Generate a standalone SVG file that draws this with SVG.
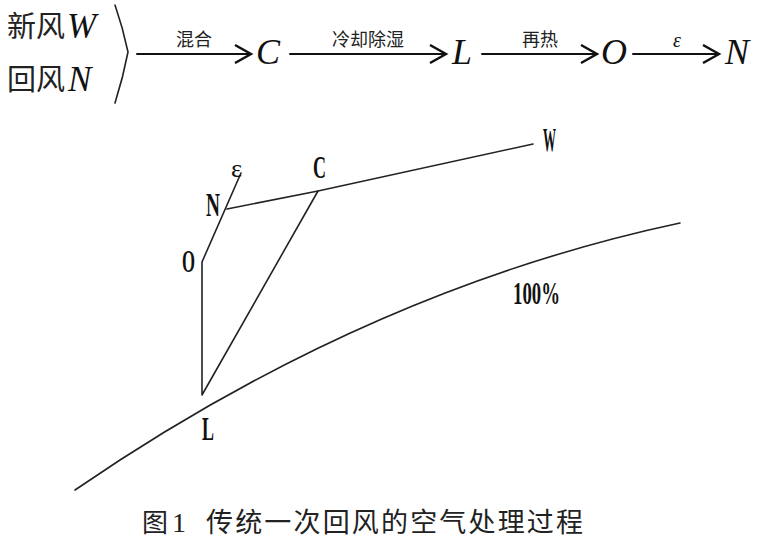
<svg xmlns="http://www.w3.org/2000/svg" width="760" height="552" viewBox="0 0 760 552">
<style>
.ln{fill:none;stroke:#222;stroke-width:1.6;stroke-linecap:round;stroke-linejoin:round}
.ar{fill:none;stroke:#111;stroke-width:2;stroke-linecap:round;stroke-linejoin:miter}
.cjk{font-family:"Noto Sans CJK SC","Noto Sans CJK JP",sans-serif;fill:#222}
.it{font-family:"Liberation Serif",serif;font-style:italic;fill:#111}
.lb{font-family:"Liberation Serif",serif;font-weight:bold;fill:#111}
</style>
<defs>
<marker id="chev" markerWidth="20" markerHeight="20" refX="17" refY="10" orient="auto" markerUnits="userSpaceOnUse">
<path d="M1,1 L17,10 L1,19" fill="none" stroke="#111" stroke-width="2.4"/>
</marker>
</defs>
<rect width="760" height="552" fill="#fff"/>

<g id="process-flow">
  <g id="inputs">
    <text class="cjk" x="7" y="37" font-size="29">新风</text>
    <text class="it" x="67" y="38" font-size="35">W</text>
    <text class="cjk" x="7" y="90" font-size="29">回风</text>
    <text class="it" x="68" y="91" font-size="35">N</text>
    <path class="ln" d="M115,5 Q123,28 128,52 Q123,78 115,103"/>
  </g>
  <g id="flow-C"><text class="it" x="256" y="64" font-size="36">C</text></g>
  <g id="flow-L"><text class="it" x="452" y="64" font-size="36">L</text></g>
  <g id="flow-O"><text class="it" x="601" y="64" font-size="36">O</text></g>
  <g id="flow-N"><text class="it" x="725" y="64" font-size="36">N</text></g>
  <g id="flow-connectors">
    <line class="ar" x1="137" y1="54" x2="251" y2="54" marker-end="url(#chev)"/>
    <line class="ar" x1="290" y1="54" x2="446" y2="54" marker-end="url(#chev)"/>
    <line class="ar" x1="482" y1="54" x2="597" y2="54" marker-end="url(#chev)"/>
    <line class="ar" x1="633" y1="54" x2="719" y2="54" marker-end="url(#chev)"/>
    <text class="cjk" x="194" y="46" font-size="18" text-anchor="middle">混合</text>
    <text class="cjk" x="368" y="46" font-size="18" text-anchor="middle">冷却除湿</text>
    <text class="cjk" x="540" y="46" font-size="18" text-anchor="middle">再热</text>
    <text class="it" x="677" y="47" font-size="20" text-anchor="middle">ε</text>
  </g>
</g>

<g id="chart">
  <g id="connectors">
    <path class="ln" d="M75,490 C250,370 450,272 680,223"/>
    <polyline class="ln" points="533,144 318,191 227,209"/>
    <polyline class="ln" points="241,173 202,262 202,395 318,191"/>
  </g>
  <g id="pt-W"><text class="lb" x="543" y="151" font-size="33" textLength="13" lengthAdjust="spacingAndGlyphs">W</text></g>
  <g id="pt-C"><text class="lb" x="313" y="178" font-size="31" textLength="13" lengthAdjust="spacingAndGlyphs">C</text></g>
  <g id="pt-eps"><text font-family="'Liberation Serif',serif" fill="#111" x="231" y="177" font-size="26" textLength="11" lengthAdjust="spacingAndGlyphs">ε</text></g>
  <g id="pt-N"><text class="lb" x="206" y="216" font-size="33" textLength="14" lengthAdjust="spacingAndGlyphs">N</text></g>
  <g id="pt-O"><text class="lb" x="182" y="272" font-size="32" textLength="13" lengthAdjust="spacingAndGlyphs">O</text></g>
  <g id="pt-L"><text class="lb" x="202" y="440" font-size="33" textLength="12" lengthAdjust="spacingAndGlyphs">L</text></g>
  <g id="rh100"><text class="lb" x="513" y="304" font-size="32" textLength="47" lengthAdjust="spacingAndGlyphs">100%</text></g>
</g>

<g id="caption">
  <text class="cjk" x="142" y="532" font-size="26">图</text>
  <text font-family="'Liberation Serif',serif" x="172" y="532" font-size="28" fill="#222">1</text>
  <text class="cjk" x="206" y="532" font-size="27" textLength="377" lengthAdjust="spacing">传统一次回风的空气处理过程</text>
</g>
</svg>
